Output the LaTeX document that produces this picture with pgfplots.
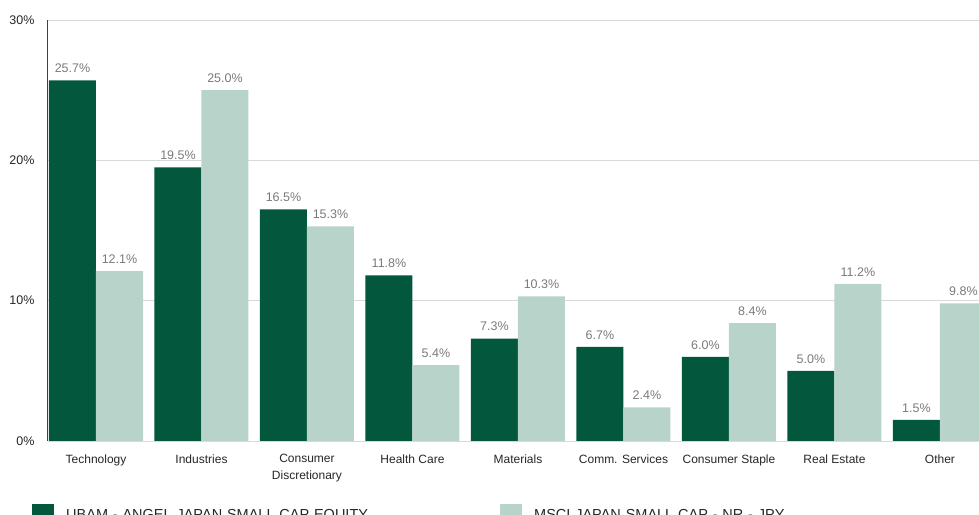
\documentclass[border=0pt]{standalone}
\usepackage{pgfplots}
\pgfplotsset{compat=1.18}
\usepackage{fontspec}
\setmainfont{Liberation Sans}
\definecolor{dkgreen}{HTML}{03573D}
\definecolor{ltgreen}{HTML}{B8D4CA}
\definecolor{gridgray}{HTML}{D9D9D9}
\definecolor{valgray}{HTML}{7A7A7A}
\begin{document}
\begin{tikzpicture}
\begin{axis}[
  name=ax,
  scale only axis,
  width=931pt, height=421pt,
  xmin=-0.455, xmax=8.37,
  ymin=0, ymax=30,
  ybar=0pt, bar width=47pt,
  ytick={0,10,20,30},
  yticklabel={\pgfmathprintnumber{\tick}\%},
  /pgf/number format/assume math mode=true,
  yticklabel style={font=\fontsize{12.5}{14}\selectfont, text=black!85, xshift=-10pt},
  ymajorgrids, grid style={gridgray, line width=0.8pt},
  xtick=data,
  xticklabels={Technology,Industries,{Consumer\\Discretionary},Health Care,Materials,{Comm. Services},{Consumer Staple},Real Estate,Other},
  xticklabel style={font=\fontsize{12}{17}\selectfont, text=black!85, align=center, anchor=north, yshift=-10pt},
  major tick length=0pt,
  axis x line*=bottom,
  axis y line*=left,
  x axis line style={gridgray, line width=0.8pt},
  y axis line style={black!75, line width=1pt},
  axis line style={-},
  nodes near coords={\pgfmathprintnumber[fixed,precision=1,fixed zerofill]{\pgfplotspointmeta}\%},
  nodes near coords style={font=\fontsize{12.5}{14}\selectfont, text=valgray, anchor=south, yshift=4pt},
  legend columns=2,
  legend style={draw=none, at={(rel axis cs:0,0)}, anchor=north west, xshift=-19pt, yshift=-61pt,
     font=\fontsize{14.5}{16}\selectfont, text=black!85,
     /tikz/every odd column/.style={column sep=10pt},
     /tikz/every even column/.style={column sep=0pt},
     nodes={text width=432pt}},
  legend image code/.code={\fill[#1] (0pt,-11pt) rectangle (22pt,11pt);},
  legend cell align=left,
]
\addplot[fill=dkgreen, draw=none] coordinates {(0,25.7) (1,19.5) (2,16.5) (3,11.8) (4,7.3) (5,6.7) (6,6.0) (7,5.0) (8,1.5)};
\addplot[fill=ltgreen, draw=none] coordinates {(0,12.1) (1,25.0) (2,15.3) (3,5.4) (4,10.3) (5,2.4) (6,8.4) (7,11.2) (8,9.8)};
\legend{UBAM - ANGEL JAPAN SMALL CAP EQUITY, MSCI JAPAN SMALL CAP - NR - JPY}
\end{axis}
\pgfresetboundingbox
\path[use as bounding box] ([shift={(-48pt,-74pt)}]ax.south west) rectangle ([shift={(0pt,20pt)}]ax.north east);
\end{tikzpicture}
\end{document}
